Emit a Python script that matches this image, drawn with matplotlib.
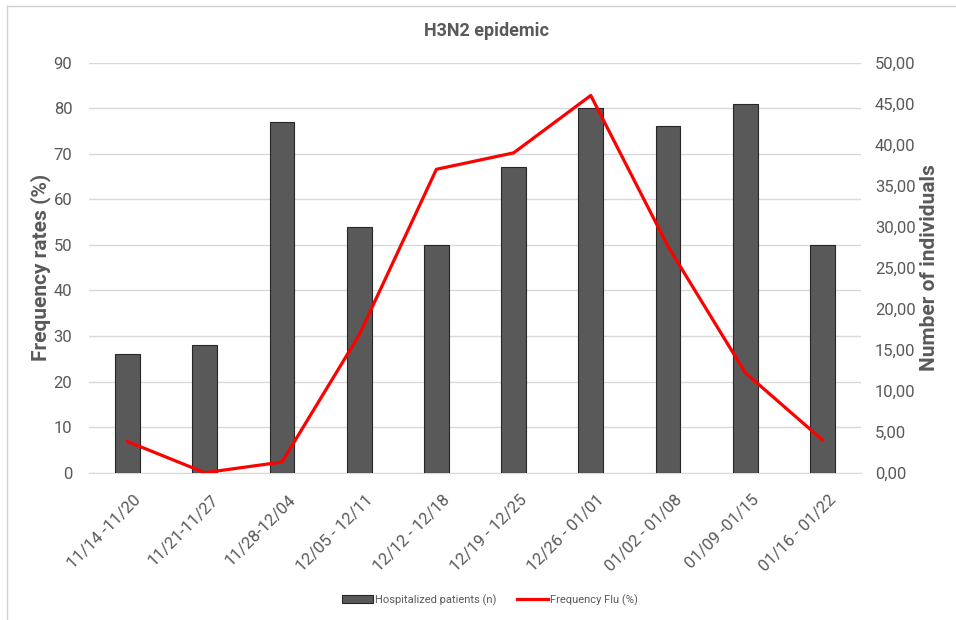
import matplotlib
matplotlib.use("Agg")
import matplotlib.pyplot as plt
from matplotlib.lines import Line2D
import matplotlib.transforms as mtransforms
import numpy as np

categories = ["11/14 -11/20", "11/21-11/27", "11/28-12/04", "12/05 - 12/11", "12/12 - 12/18",
              "12/19 - 12/25", "12/26 - 01/01", "01/02 - 01/08", "01/09 -01/15", "01/16 - 01/22"]
hospitalized = [26, 28, 77, 54, 50, 67, 80, 76, 81, 50]
frequency_flu = [3.8, 0.0, 1.3, 16.8, 37.0, 39.0, 46.0, 27.6, 12.2, 4.0]
left_ticks = list(range(0, 91, 10))
right_ticks = list(range(0, 51, 5))

plt.rcParams['font.family'] = ['Roboto', 'DejaVu Sans']
txt = '#595959'

fig = plt.figure(figsize=(9.56, 6.2), dpi=100)
ax = fig.add_axes([0.0931, 0.2376, 0.9006 - 0.0931, 0.8989 - 0.2376])
x = np.arange(len(categories))
ax.bar(x, hospitalized, width=0.32, color='#595959', edgecolor='#262626', linewidth=0.8, zorder=3,
       label='Hospitalized patients (n)')
ax.set_xlim(-0.5, len(categories) - 0.5)
ax.set_ylim(0, 90)
ax.set_yticks(left_ticks)
ax.set_yticklabels([str(v) for v in left_ticks])
ax.grid(axis='y', color='#d9d9d9', linewidth=1.0, zorder=0)
ax.set_axisbelow(True)
for s in ['top', 'right', 'left']:
    ax.spines[s].set_visible(False)
ax.spines['bottom'].set_color('#d9d9d9')
ax.tick_params(axis='both', length=0, colors=txt)
ax.tick_params(axis='y', pad=12, labelsize=12)
ax.set_xticks(x)
ax.set_xticklabels(categories, rotation=45, ha='right', rotation_mode='anchor', fontsize=12, color=txt)
ax.tick_params(axis='x', pad=14)
offset = mtransforms.ScaledTranslation(6 / 100, 0, fig.dpi_scale_trans)
for lbl in ax.get_xticklabels():
    lbl.set_transform(lbl.get_transform() + offset)
ax.set_ylabel('Frequency rates (%)', fontsize=15, fontweight='bold', color=txt, labelpad=2)

ax2 = ax.twinx()
ax2.plot(x, frequency_flu, color='#ff0000', linewidth=2.3, zorder=4, label='Frequency Flu (%)')
ax2.set_ylim(0, 50)
ax2.set_yticks(right_ticks)
ax2.set_yticklabels([f"{v:.2f}".replace('.', ',') for v in right_ticks])
for s in ['top', 'right', 'left', 'bottom']:
    ax2.spines[s].set_visible(False)
ax2.tick_params(axis='y', length=0, colors=txt, labelsize=12, pad=10)
ax2.set_ylabel('Number of individuals', fontsize=15, fontweight='bold', color=txt, labelpad=3)

fig.text(487 / 956, 1 - 30.5 / 620, 'H3N2 epidemic', ha='center', va='center', fontsize=13,
         fontweight='bold', color=txt)

handles = [plt.Rectangle((0, 0), 1, 1, facecolor='#595959', edgecolor='#262626', linewidth=0.8),
           Line2D([0], [0], color='#ff0000', linewidth=2.3)]
leg = fig.legend(handles, ['Hospitalized patients (n)', 'Frequency Flu (%)'], loc='center',
                 bbox_to_anchor=(490 / 956, 1 - 600 / 620), ncol=2, frameon=False, fontsize=8,
                 handlelength=2.8, handleheight=0.7, columnspacing=1.8, handletextpad=0.2)
for t in leg.get_texts():
    t.set_color(txt)

# outer frame lines
fig.add_artist(Line2D([7 / 956, 7 / 956], [0, 1 - 6 / 620], transform=fig.transFigure, color='#d0d0d0', linewidth=1))
fig.add_artist(Line2D([7 / 956, 1], [1 - 6 / 620, 1 - 6 / 620], transform=fig.transFigure, color='#d0d0d0', linewidth=1))

fig.savefig('out.png', dpi=100)
